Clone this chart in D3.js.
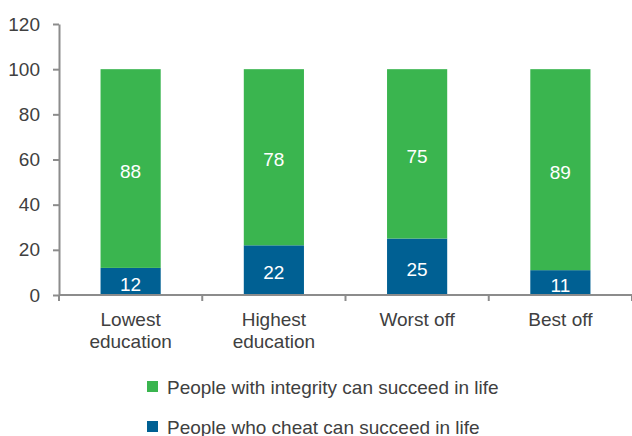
<!DOCTYPE html>
<html>
<head>
<meta charset="utf-8">
<script src="https://cdn.jsdelivr.net/npm/d3@7"></script>
<style>
  html, body { margin: 0; padding: 0; background: #fff; }
  svg { display: block; font-family: "Liberation Sans", Arial, sans-serif; }
</style>
</head>
<body>
<svg id="chart" width="632" height="436"></svg>
<script>
// Survey shares by group
const categories = [["Lowest", "education"], ["Highest", "education"], ["Worst off"], ["Best off"]];
const integrity = [88, 78, 75, 89];
const cheat = [12, 22, 25, 11];
const yTicks = [0, 20, 40, 60, 80, 100, 120];
const seriesNames = ["People with integrity can succeed in life", "People who cheat can succeed in life"];
const colors = ["#3ab54f", "#006093"];

const svg = d3.select("#chart");
const margin = { left: 59, right: 0, top: 24, bottom: 141 };
const W = 632, H = 436;
const fs = 19;

const keys = categories.map((c, i) => i);
const x = d3.scaleBand().domain(keys).range([margin.left, W - margin.right]).paddingInner(0.58).paddingOuter(0.29);
const xb = d3.scaleBand().domain(keys).range([margin.left, W - margin.right]);
const y = d3.scaleLinear().domain([0, 120]).range([H - margin.bottom, margin.top]);

const axisColor = "#8c8c8c";
const textColor = "#404040";

// stacked bars: cheat at bottom, integrity on top
const stacked = keys.map(i => ({ i, segs: [
  { v0: 0, v1: cheat[i], c: colors[1] },
  { v0: cheat[i], v1: cheat[i] + integrity[i], c: colors[0] }
]}));

const g = svg.append("g");
stacked.forEach(d => {
  d.segs.forEach(s => {
    g.append("rect")
      .attr("x", x(d.i))
      .attr("width", x.bandwidth())
      .attr("y", y(s.v1))
      .attr("height", y(s.v0) - y(s.v1))
      .attr("fill", s.c);
    g.append("text")
      .attr("x", x(d.i) + x.bandwidth() / 2)
      .attr("y", (y(s.v0) + y(s.v1)) / 2 + 3)
      .attr("dy", "0.32em")
      .attr("text-anchor", "middle")
      .attr("fill", "#fff")
      .attr("font-size", fs)
      .text(s.v1 - s.v0);
  });
});

// y axis
const yAxis = svg.append("g")
  .attr("transform", `translate(${margin.left},0)`)
  .call(d3.axisLeft(y).tickValues(yTicks).tickSize(6).tickPadding(13).tickSizeOuter(0));
yAxis.select(".domain").attr("stroke", axisColor).attr("stroke-width", 2);
yAxis.selectAll(".tick line").attr("stroke", axisColor).attr("stroke-width", 2);
yAxis.selectAll(".tick text").attr("fill", textColor).attr("font-size", fs).attr("font-family", "Liberation Sans, Arial, sans-serif");

// x axis with ticks between categories
const xAxisG = svg.append("g").attr("transform", `translate(0,${y(0)})`);
xAxisG.append("line")
  .attr("x1", margin.left).attr("x2", W)
  .attr("stroke", axisColor).attr("stroke-width", 2);
const bounds = keys.map(i => xb(i)).concat([xb(keys.length - 1) + xb.bandwidth()]);
xAxisG.selectAll("line.sep").data(bounds).join("line")
  .attr("class", "sep")
  .attr("x1", d => d).attr("x2", d => d)
  .attr("y1", 0).attr("y2", 6)
  .attr("stroke", axisColor).attr("stroke-width", 2);

keys.forEach(i => {
  const t = xAxisG.append("text")
    .attr("x", x(i) + x.bandwidth() / 2)
    .attr("y", 31)
    .attr("text-anchor", "middle")
    .attr("fill", textColor)
    .attr("font-size", fs);
  categories[i].forEach((line, k) => {
    t.append("tspan").attr("x", x(i) + x.bandwidth() / 2).attr("dy", k === 0 ? 0 : 22).text(line);
  });
});

// legend
const legend = svg.append("g").attr("transform", "translate(147,381)");
seriesNames.forEach((name, k) => {
  const row = legend.append("g").attr("transform", `translate(0,${k * 40})`);
  row.append("rect").attr("width", 11).attr("height", 11).attr("fill", colors[k]);
  row.append("text").attr("x", 20).attr("y", 13).attr("fill", textColor).attr("font-size", fs).text(name);
});
</script>
</body>
</html>
